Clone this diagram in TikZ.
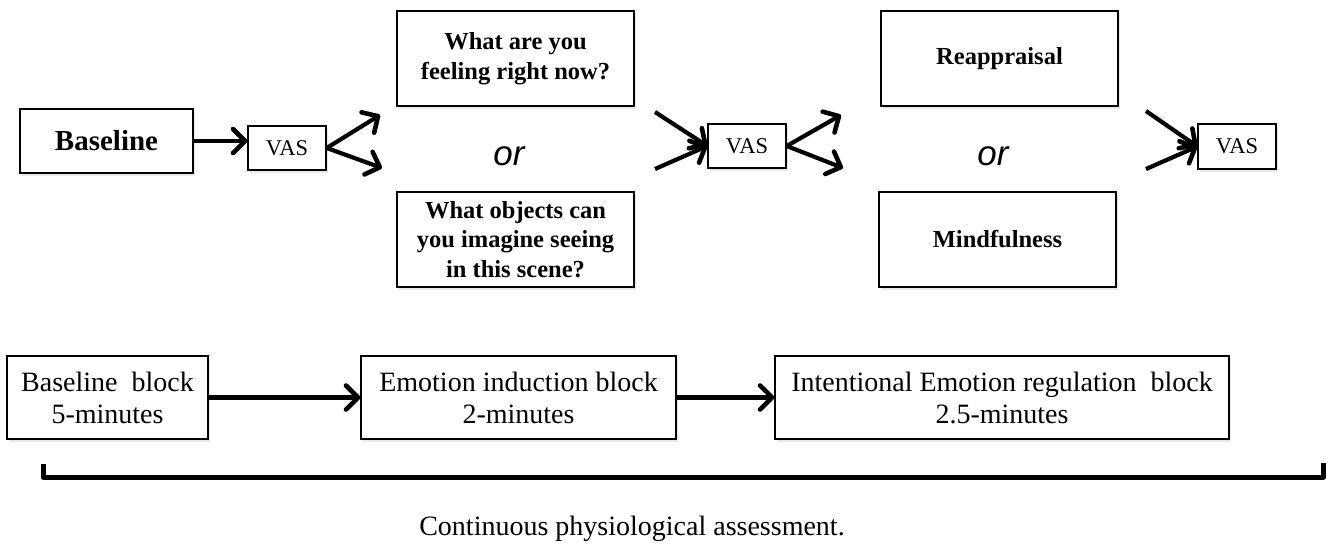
\documentclass[tikz,border=0pt]{standalone}
\usepackage{fontspec}
\setmainfont{Liberation Serif}
\newfontfamily\orfont{Liberation Sans}
\usetikzlibrary{arrows.meta,shadows}
\begin{document}
\begin{tikzpicture}[x=1pt,y=-1pt,
  box/.style={draw=black, line width=1.4pt, fill=white, inner sep=0pt,
    drop shadow={shadow xshift=1.5pt, shadow yshift=-2.5pt, opacity=0.18}},
  bigq/.style={box, minimum width=237pt, minimum height=95pt, align=center,
    font=\bfseries\fontsize{24.5}{29.5}\selectfont},
  vasbox/.style={box, minimum width=78pt, minimum height=44pt,
    font=\fontsize{22.5}{24}\selectfont},
  blockbox/.style={box, minimum height=83pt, align=center,
    font=\fontsize{28}{32}\selectfont},
  ortext/.style={font=\orfont\itshape\fontsize{35}{40}\selectfont, inner sep=0pt},
  arr/.style={line width=4.2pt, -{Straight Barb[length=12pt,width=24pt,line width=4.6pt,round]}},
  bracket/.style={line width=5pt, line join=round}]
\useasboundingbox (0,0) rectangle (1329,546);

% top row
\node[box, minimum width=173pt, minimum height=64pt,
      font=\bfseries\fontsize{29}{32}\selectfont] (base) at (106.5,141) {Baseline};
\node[vasbox] (vas1) at (287,148) {VAS};
\node[bigq] (q1) at (515.5,58.5) {What are you\\feeling right now?};
\node[bigq] (q2) at (515.5,239.5) {What objects can\\you imagine seeing\\in this scene?};
\node[ortext] (or1) at (509,156) {or};
\node[vasbox] (vas2) at (747,146) {VAS};
\node[bigq] (re) at (999.5,58.5) {Reappraisal};
\node[bigq] (mi) at (997.5,239.5) {Mindfulness};
\node[ortext] (or2) at (993,156) {or};
\node[vasbox, minimum height=45pt] (vas3) at (1237,146.5) {VAS};

\coordinate (f1u) at (380,115);
\coordinate (f1d) at (382,168);
\coordinate (c1u) at (655,112);
\coordinate (c1d) at (655,169);
\coordinate (f2u) at (841,115);
\coordinate (f2d) at (843,168);
\coordinate (c2u) at (1146,111);
\coordinate (c2d) at (1146,169);

\draw[arr] (base.east) -- (base.east -| vas1.west);
\draw[arr] (vas1.east) -- (f1u);
\draw[arr] (vas1.east) -- (f1d);
\draw[arr] (c1u) -- (vas2.west);
\draw[arr] (c1d) -- (vas2.west);
\draw[arr] (vas2.east) -- (f2u);
\draw[arr] (vas2.east) -- (f2d);
\draw[arr] (c2u) -- (vas3.west);
\draw[arr] (c2d) -- (vas3.west);

% bottom row
\node[blockbox, minimum width=201pt] (bb) at (107.5,397.5) {Baseline~ block\\5-minutes};
\node[blockbox, minimum width=315pt] (ei) at (518.5,397.5) {Emotion induction block\\2-minutes};
\node[blockbox, minimum width=454pt] (ie) at (1002,397.5) {Intentional Emotion regulation~ block\\2.5-minutes};
\draw[arr] (bb.east) -- (ei.west);
\draw[arr] (ei.east) -- (ie.west);

\coordinate (brl) at (43,464);
\coordinate (brr) at (1323,463);
\draw[bracket] (brl) -- (43,477) -- (1323,477) -- (brr);

\node[anchor=base, inner sep=0pt, font=\fontsize{28}{32}\selectfont] (cap) at (632,535)
  {Continuous physiological assessment.};
\end{tikzpicture}
\end{document}
